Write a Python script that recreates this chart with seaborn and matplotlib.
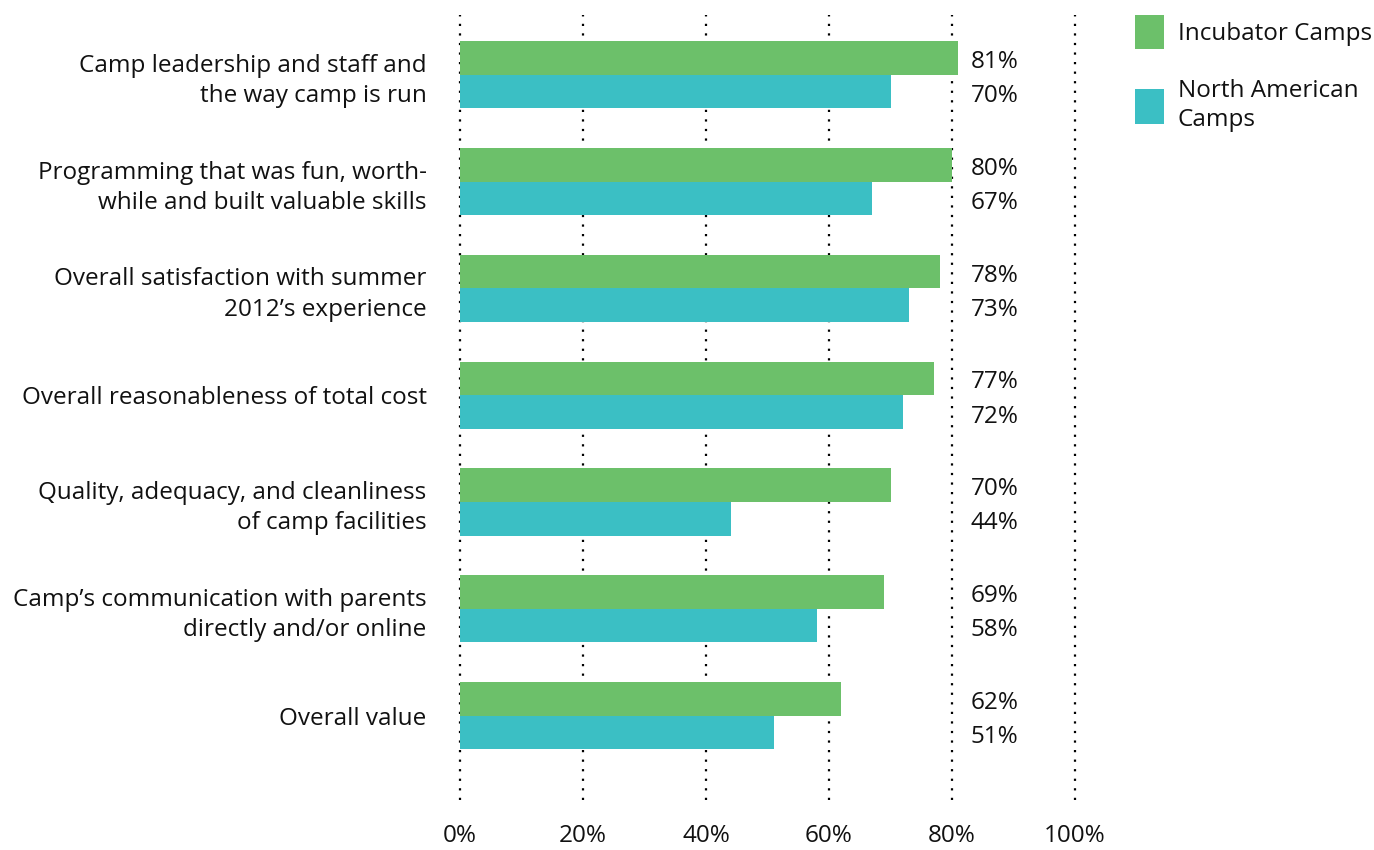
import pandas as pd
import matplotlib
matplotlib.use("Agg")
import matplotlib.pyplot as plt
import seaborn as sns
from matplotlib.patches import Patch

# dados do gráfico
categorias = [
    "Camp leadership and staff and\nthe way camp is run",
    "Programming that was fun, worth-\nwhile and built valuable skills",
    "Overall satisfaction with summer\n2012\u2019s experience",
    "Overall reasonableness of total cost",
    "Quality, adequacy, and cleanliness\nof camp facilities",
    "Camp\u2019s communication with parents\ndirectly and/or online",
    "Overall value",
]
incubator = [81, 80, 78, 77, 70, 69, 62]
north_american = [70, 67, 73, 72, 44, 58, 51]
series = ["Incubator Camps", "North American Camps"]
cores = ["#6CC06A", "#3BBFC4"]
ticks = [0, 20, 40, 60, 80, 100]

df = pd.DataFrame({
    "Categoria": categorias * 2,
    "Valor": incubator + north_american,
    "Grupo": [series[0]] * len(categorias) + [series[1]] * len(categorias),
})

sns.set_style("white")
plt.rcParams["font.family"] = ["Open Sans", "DejaVu Sans"]
fs = 17.5

fig = plt.figure(figsize=(13.74, 8.5), dpi=100)
ax = fig.add_axes([460 / 1374, 1 - 800 / 850, (1075 - 460) / 1374, 785 / 850])

sns.barplot(data=df, y="Categoria", x="Valor", hue="Grupo", palette=cores,
            orient="h", width=0.63, saturation=1, linewidth=0, ax=ax, legend=False)

ax.set_xlim(0, 100)
ax.set_ylim(6.79, -0.56)
ax.set_xticks(ticks)
ax.set_xticklabels([f"{t}%" for t in ticks])
ax.set_xlabel("")
ax.set_ylabel("")
for s in ax.spines.values():
    s.set_visible(False)
ax.set_axisbelow(True)
ax.grid(axis="x", color="black", linestyle=(0, (1, 3.3)), linewidth=1.6)
ax.grid(axis="y", visible=False)
for gl in ax.get_xgridlines():
    gl.set_clip_on(False)
ax.tick_params(axis="both", length=0, labelsize=fs, colors="#111111")
ax.tick_params(axis="x", pad=17)
ax.tick_params(axis="y", pad=24)
for lab in ax.get_yticklabels():
    lab.set_horizontalalignment("right")
    lab.set_multialignment("right")
    lab.set_linespacing(1.35)

# rótulos de valor
for i in range(len(categorias)):
    ax.text(83, i - 0.12, f"{incubator[i]}%", va="center", ha="left",
            fontsize=fs, color="#111111")
    ax.text(83, i + 0.2, f"{north_american[i]}%", va="center", ha="left",
            fontsize=fs, color="#111111")

handles = [Patch(facecolor=c, edgecolor="none") for c in cores]
leg = fig.legend(handles, ["Incubator Camps", "North American\nCamps"],
                 loc="upper left", bbox_to_anchor=(1135 / 1374, 1 - 15 / 850),
                 frameon=False, fontsize=fs, handlelength=1.2, handleheight=1.8,
                 handletextpad=0.55, labelspacing=1.2, borderaxespad=0, borderpad=0)
for t in leg.get_texts():
    t.set_linespacing(1.3)
    t.set_color("#111111")

fig.savefig("out.png", dpi=100)
